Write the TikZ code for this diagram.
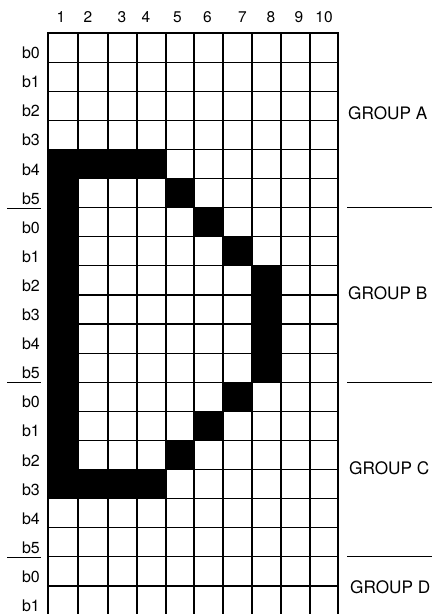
\documentclass[tikz,border=0pt]{standalone}
\usepackage{fontspec}
\setmainfont{TeX Gyre Heros}
\begin{document}
\begin{tikzpicture}[x=1pt,y=-1pt,
  gridline/.style={line width=1.2pt, line cap=rect},
  sepline/.style={line width=1.2pt},
  rowlab/.style={anchor=base east, inner sep=0pt, font=\fontsize{16}{16}\selectfont},
  collab/.style={anchor=base, inner sep=0pt, font=\fontsize{15.5}{15.5}\selectfont},
  grouplab/.style={anchor=base west, inner sep=0pt, font=\fontsize{17.2}{17.2}\selectfont}]
\useasboundingbox (0,0) rectangle (432,614);
\def\colx{{48,78,108,137,166,194,223,252,281,310,338}}
% black cells
\foreach \c/\r in {1/5,2/5,3/5,4/5,1/6,5/6,1/7,6/7,1/8,7/8,1/9,8/9,1/10,8/10,1/11,8/11,1/12,8/12,1/13,7/13,1/14,6/14,1/15,5/15,1/16,2/16,3/16,4/16}{
  \pgfmathsetmacro\xl{\colx[\c-1]}
  \pgfmathsetmacro\xr{\colx[\c]}
  \fill[black] (\xl,{33+29.1*(\r-1)}) rectangle (\xr,{33+29.1*\r});
}
% grid
\foreach \x in {48,78,108,137,166,194,223,252,281,310,338}
  \draw[gridline] (\x,33) -- (\x,616);
\foreach \j in {0,...,20}
  \draw[gridline] (48,{33+29.1*\j}) -- (338,{33+29.1*\j});
% column labels
\foreach \x/\t [count=\i] in {61/1,88/2,122/3,146/4,177.5/5,207.5/6,242.5/7,271/8,299/9,324/10}
  \node[collab] (col\i) at (\x,22.5) {\t};
% row labels
\foreach \t [count=\r] in {b0,b1,b2,b3,b4,b5,b0,b1,b2,b3,b4,b5,b0,b1,b2,b3,b4,b5,b0,b1}
  \node[rowlab] (row\r) at (40,{33+29.1*\r-3.5}) {\t};
% separators
\foreach \r in {6,12,18}{
  \draw[sepline] (7,{33+29.1*\r+0.5}) -- (41,{33+29.1*\r+0.5});
  \draw[sepline] (347,{33+29.1*\r}) -- (432,{33+29.1*\r});
}
% group labels
\node[grouplab] (gA) at (348,119) {GROUP A};
\node[grouplab] (gB) at (348,299.5) {GROUP B};
\node[grouplab] (gC) at (349,474.5) {GROUP C};
\node[grouplab] (gD) at (350,593.5) {GROUP D};
\end{tikzpicture}
\end{document}
